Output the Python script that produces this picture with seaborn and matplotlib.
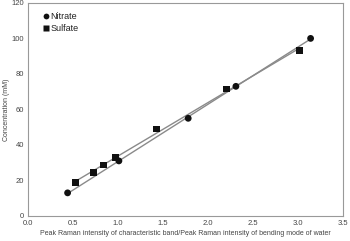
import seaborn as sns
import pandas as pd
import matplotlib.pyplot as plt
import numpy as np

# data
nitrate_x = [0.44, 1.01, 1.78, 2.31, 3.14]
nitrate_y = [13, 31, 55, 73, 100]
sulfate_x = [0.53, 0.73, 0.84, 0.97, 1.43, 2.21, 3.02]
sulfate_y = [19, 24.5, 28.7, 32.7, 49, 71.5, 93]

df = pd.concat([
    pd.DataFrame({'x': nitrate_x, 'y': nitrate_y, 'ion': 'Nitrate'}),
    pd.DataFrame({'x': sulfate_x, 'y': sulfate_y, 'ion': 'Sulfate'}),
])

sns.set_style('white')
plt.rcParams['font.family'] = ['Liberation Sans', 'DejaVu Sans']

fig = plt.figure(figsize=(3.5, 2.41), dpi=100)
ax = fig.add_axes([0.08, 0.104, 0.90, 0.884])

# fitted lines
for ion in ['Nitrate', 'Sulfate']:
    sub = df[df['ion'] == ion]
    sns.regplot(data=sub, x='x', y='y', ci=None, scatter=False, truncate=True,
                line_kws={'color': '#8a8a8a', 'lw': 1.0}, ax=ax)

sns.scatterplot(data=df, x='x', y='y', style='ion', markers={'Nitrate': 'o', 'Sulfate': 's'},
                color='#111111', s=24, edgecolor='none', ax=ax, zorder=3)

ax.set_xlim(0, 3.5)
ax.set_ylim(0, 120)
ax.set_xticks(np.arange(0, 3.51, 0.5))
ax.set_yticks(np.arange(0, 121, 20))
ax.set_xticklabels([f'{v:.1f}' for v in np.arange(0, 3.51, 0.5)])
ax.tick_params(labelsize=5.5, colors='#444444', length=0, pad=3)
ax.set_xlabel('Peak Raman intensity of characteristic band/Peak Raman intensity of bending mode of water',
              fontsize=5, color='#444444', labelpad=2)
ax.set_ylabel('Concentration (mM)', fontsize=5, color='#444444', labelpad=1)
for s in ax.spines.values():
    s.set_color('#999999')
    s.set_linewidth(0.8)

leg = ax.legend(loc='upper left', bbox_to_anchor=(0.02, 0.995), frameon=False, fontsize=6.5,
                handletextpad=0.1, handlelength=0.8, labelspacing=0.3, markerscale=0.85)
leg.set_title(None)
for t in leg.get_texts():
    t.set_color('#222222')

fig.savefig('out.png', dpi=100)
